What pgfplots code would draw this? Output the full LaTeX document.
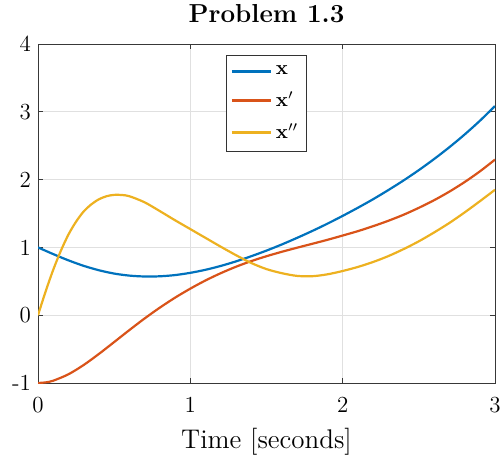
\documentclass[border=0pt]{standalone}
\usepackage{pgfplots}
\pgfplotsset{compat=1.18}
\definecolor{mblue}{rgb}{0,0.447,0.741}
\definecolor{morange}{rgb}{0.85,0.325,0.098}
\definecolor{myellow}{rgb}{0.929,0.694,0.125}
\begin{document}
\begin{tikzpicture}
\useasboundingbox (-19pt,-39pt) rectangle (232.5pt,191.5pt);
\begin{axis}[
  scale only axis,
  width=228.5pt, height=169.5pt,
  xmin=0, xmax=3, ymin=-1, ymax=4,
  xtick={0,1,2,3}, xticklabels={0,1,2,3},
  ytick={-1,0,1,2,3,4}, yticklabels={-1,0,1,2,3,4},
  tick align=inside,
  xtick pos=both, ytick pos=both,
  major tick length=2.5pt,
  axis line style={black!78, line width=0.5pt},
  every tick/.style={black!78, line width=0.5pt},
  grid=major,
  major grid style={black!12, line width=0.5pt},
  tick label style={font=\fontsize{11.5}{13}\selectfont},
  xticklabel style={anchor=base, yshift=-14.5pt},
  yticklabel style={xshift=0pt},
  title={\textbf{Problem 1.3}},
  title style={font=\fontsize{13}{15}\selectfont, at={(0.5,1)}, anchor=base, yshift=5pt},
  xlabel={Time [seconds]},
  xlabel style={font=\fontsize{13.5}{15}\selectfont, at={(0.5,0)}, anchor=base, yshift=-32.5pt},
  legend style={at={(0.5,1)}, anchor=north, yshift=-5.5pt, draw=black!80, line width=0.5pt,
    font=\fontsize{10}{11}\selectfont\bfseries, inner xsep=2pt, inner ysep=3pt, row sep=3pt,
    /tikz/every even column/.append style={column sep=1pt}},
  legend cell align=left,
  legend image code/.code={\draw[#1] (0pt,0pt) -- (19.5pt,0pt);},
  every axis plot/.append style={line width=1.1pt},
]
\addplot[mblue, smooth] coordinates {
(0,1.000) (0.1,0.901) (0.2,0.809) (0.3,0.728) (0.4,0.663) (0.5,0.614) (0.6,0.584)
(0.7,0.571) (0.8,0.574) (0.9,0.592) (1.0,0.625) (1.1,0.670) (1.2,0.727) (1.3,0.794)
(1.4,0.870) (1.5,0.953) (1.6,1.043) (1.7,1.140) (1.8,1.242) (1.9,1.350) (2.0,1.465)
(2.1,1.585) (2.2,1.711) (2.3,1.846) (2.4,1.988) (2.5,2.140) (2.6,2.303) (2.7,2.477)
(2.8,2.664) (2.9,2.866) (3.0,3.085)};
\addlegendentry{x}
\addplot[morange, smooth] coordinates {
(0,-1.000) (0.05,-0.991) (0.1,-0.966) (0.2,-0.871) (0.3,-0.734) (0.4,-0.571) (0.5,-0.396)
(0.6,-0.219) (0.7,-0.048) (0.8,0.112) (0.9,0.259) (1.0,0.392) (1.1,0.513) (1.2,0.620)
(1.3,0.715) (1.4,0.798) (1.5,0.870) (1.6,0.935) (1.7,0.995) (1.8,1.053) (1.9,1.112)
(2.0,1.175) (2.1,1.240) (2.2,1.313) (2.3,1.393) (2.4,1.482) (2.5,1.584) (2.6,1.696)
(2.7,1.822) (2.8,1.963) (2.9,2.120) (3.0,2.295)};
\addlegendentry{x$'$}
\addplot[myellow, smooth] coordinates {
(0,0) (0.05,0.35) (0.1,0.67) (0.15,0.95) (0.2,1.19) (0.25,1.38) (0.3,1.53) (0.35,1.635)
(0.4,1.71) (0.45,1.755) (0.5,1.775) (0.55,1.773) (0.6,1.755) (0.7,1.665) (0.8,1.535)
(0.9,1.40) (1.0,1.27)
(1.1,1.14) (1.2,1.01) (1.3,0.885) (1.4,0.77) (1.5,0.68) (1.6,0.62) (1.7,0.58)
(1.8,0.575) (1.9,0.603) (2.0,0.652) (2.1,0.712) (2.2,0.785) (2.3,0.872) (2.4,0.975)
(2.5,1.09) (2.6,1.22) (2.7,1.36) (2.8,1.515) (2.9,1.68) (3.0,1.85)};
\addlegendentry{x$''$}
\end{axis}
\end{tikzpicture}
\end{document}
